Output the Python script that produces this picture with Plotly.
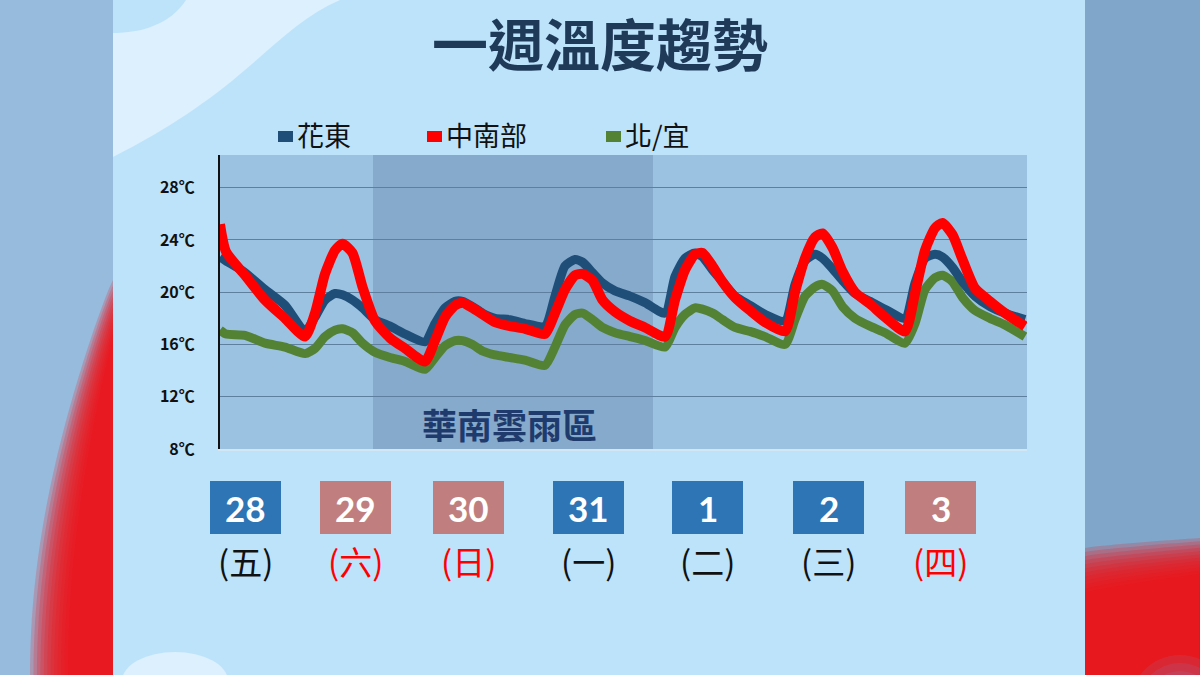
import plotly.graph_objects as go
import numpy as np

# ---------------- data ----------------
hours = [0, 1.2, 5, 9, 13,
         17, 19, 21, 23, 24.5, 26.5, 28.5, 31, 34, 37,
         41, 43, 45, 47, 48.5, 50.5, 52.5, 55, 58, 61,
         65, 67, 69, 71, 72.5, 74.5, 76.5, 79, 82, 85,
         89, 91, 93, 95, 96.5, 98.5, 100.5, 103, 106, 109,
         113, 115, 117, 119, 120.5, 122.5, 124.5, 127, 130, 133,
         137, 139, 141, 143, 144.5, 146.5, 148.5, 151, 154, 157,
         161]

hualien_taitung = [22.7, 22.4, 21.5, 20.2, 19.0,
                   17.0, 18.1, 19.4, 19.9, 19.8, 19.4, 18.8, 17.9, 17.4, 16.8,
                   16.2, 17.6, 18.8, 19.3, 19.3, 18.9, 18.4, 18.0, 17.9, 17.6,
                   17.4, 19.7, 22.0, 22.5, 22.3, 21.5, 20.7, 20.1, 19.7, 19.2,
                   18.4, 21.2, 22.6, 23.0, 22.7, 21.7, 20.8, 19.7, 19.0, 18.3,
                   17.8, 20.6, 22.4, 22.9, 22.6, 21.8, 20.9, 19.9, 19.3, 18.7,
                   18.0, 20.7, 22.6, 22.9, 22.7, 21.9, 20.8, 19.7, 18.9, 18.4,
                   17.9]

central_south = [25.2, 23.1, 21.3, 19.4, 18.0,
                 16.6, 18.4, 21.4, 23.2, 23.7, 23.0, 20.4, 17.8, 16.5, 15.7,
                 14.7, 16.3, 18.1, 19.0, 19.2, 18.8, 18.3, 17.7, 17.4, 17.2,
                 16.8, 18.4, 20.2, 21.3, 21.4, 20.9, 19.4, 18.5, 17.8, 17.3,
                 16.6, 19.4, 21.7, 22.9, 23.0, 22.0, 20.8, 19.6, 18.6, 17.7,
                 17.0, 20.0, 22.6, 24.2, 24.5, 23.4, 21.6, 20.0, 19.1, 18.1,
                 17.0, 19.9, 23.2, 24.9, 25.3, 24.4, 22.5, 20.3, 19.3, 18.4,
                 17.4]

north_yilan = [17.1, 16.8, 16.7, 16.1, 15.8,
               15.3, 15.7, 16.6, 17.1, 17.2, 16.9, 16.1, 15.4, 15.0, 14.7,
               14.1, 15.0, 15.9, 16.3, 16.3, 16.0, 15.5, 15.2, 15.0, 14.8,
               14.4, 15.8, 17.5, 18.3, 18.4, 17.9, 17.3, 16.9, 16.6, 16.3,
               15.8, 17.3, 18.3, 18.8, 18.7, 18.4, 17.9, 17.3, 17.0, 16.6,
               16.0, 17.9, 19.7, 20.4, 20.6, 20.1, 18.9, 18.0, 17.4, 16.9,
               16.1, 17.6, 20.2, 21.1, 21.3, 20.8, 19.6, 18.6, 18.0, 17.5,
               16.6]

series_names = ["花東", "中南部", "北/宜"]
y_ticks = [8, 12, 16, 20, 24, 28]
y_tick_labels = ["8℃", "12℃", "16℃", "20℃", "24℃", "28℃"]
rain_band_hours = [30.6, 86.6]
rain_band_label = "華南雲雨區"
date_labels = ["28", "29", "30", "31", "1", "2", "3"]
weekday_labels = ["(五)", "(六)", "(日)", "(一)", "(二)", "(三)", "(四)"]
is_holiday = [False, True, True, False, False, False, True]
title_text = "一週溫度趨勢"

# ---------------- layout helpers ----------------
W, H = 1200, 675
PL, PR, PT, PB = 220, 1027, 155, 449


def fx(x):
    return (x - PL) / (PR - PL)


def fy(y):
    return (PB - y) / (PB - PT)


def path(s):
    out = []
    for tok in s.split():
        if "," in tok:
            a, b = tok.split(",")
            out.append(f"{fx(float(a)):.5f},{fy(float(b)):.5f}")
        else:
            out.append(tok)
    return " ".join(out)


def poly(pts):
    return "M " + " L ".join(f"{fx(x):.5f},{fy(y):.5f}" for x, y in pts) + " Z"


def rect(x0, y0, x1, y1, color, **kw):
    return dict(type="rect", xref="paper", yref="paper", x0=fx(x0), x1=fx(x1),
                y0=fy(y1), y1=fy(y0), fillcolor=color, line=dict(width=0),
                layer="below", **kw)


def pshape(s, color):
    return dict(type="path", xref="paper", yref="paper", path=path(s),
                fillcolor=color, line=dict(width=0), layer="below")


def circ(x0, y0, x1, y1, color):
    return dict(type="circle", xref="paper", yref="paper", x0=fx(x0), x1=fx(x1),
                y0=fy(y1), y1=fy(y0), fillcolor=color, line=dict(width=0),
                layer="below")


C_BLUE = "#1F4E79"
C_RED = "#FF0000"
C_GREEN = "#548235"
CJK = "Noto Sans CJK TC"

shapes = []
# side strips
shapes.append(rect(0, 0, 113, 675, "#97BBDD"))
shapes.append(rect(1085, 0, 1200, 675, "#80A6C9"))

# left blurred red glow (stacked translucent layers between outer and inner boundary)
NL = 12
g = np.linspace(0, 1, 50)
for i in range(NL):
    f = i / (NL - 1)
    y_top = 280 + 60 * f
    x_bot = 30 + 38 * f
    ys = y_top + (675 - y_top) * g
    xs = 113 - (113 - x_bot) * np.sin(g * np.pi / 2) ** 0.9
    pts = [(113, y_top)] + list(zip(xs, ys)) + [(113, 675)]
    shapes.append(dict(type="path", xref="paper", yref="paper", path=poly(pts),
                       fillcolor="rgba(242,16,22,0.2)", line=dict(width=0), layer="below"))

# right blurred red glow
for i in range(NL):
    f = i / (NL - 1)
    top_l = 548 + 45 * f
    top_r = 538 + 36 * f
    xs = np.linspace(1085, 1200, 20)
    ys = top_l + (top_r - top_l) * ((xs - 1085) / 115) ** 0.8
    pts = list(zip(xs, ys)) + [(1200, 675), (1085, 675)]
    shapes.append(dict(type="path", xref="paper", yref="paper", path=poly(pts),
                       fillcolor="rgba(242,16,22,0.2)", line=dict(width=0), layer="below"))
for i in range(5):
    r = 50 - 8 * i
    shapes.append(circ(1180 - r, 705 - r, 1180 + r, 705 + r, "rgba(128,150,200,0.13)"))

# central panel
shapes.append(rect(113, 0, 1085, 675, "#BDE3FB"))
# top-left light wave
shapes.append(pshape("M 113,157 C 170,128 210,100 245,70 C 280,40 305,15 340,0 L 186,0 C 170,25 140,33 113,33 Z", "#DCF0FD"))
# bottom-left bump
shapes.append(circ(122, 652, 228, 710, "#DCF0FD"))
# plot background
shapes.append(rect(PL, PT, PR, PB, "#9CC2E2"))
# rain band
shapes.append(dict(type="rect", xref="x", yref="paper", x0=rain_band_hours[0], x1=rain_band_hours[1],
                   y0=0, y1=1, fillcolor="#86AACB", line=dict(width=0), layer="below"))

annotations = []
annotations.append(dict(x=fx(600), y=fy(41), xref="paper", yref="paper", text=title_text,
                        showarrow=False, xanchor="center", yanchor="middle",
                        font=dict(family=CJK, size=56, color="#1F3A58", weight="bold")))
# legend
leg_marker_x = [278, 427, 606]
leg_colors = [C_BLUE, C_RED, C_GREEN]
for name, mx, col in zip(series_names, leg_marker_x, leg_colors):
    shapes.append(dict(type="rect", xref="paper", yref="paper", x0=fx(mx), x1=fx(mx + 15),
                       y0=fy(142), y1=fy(131), fillcolor=col, line=dict(width=0), layer="above"))
    annotations.append(dict(x=fx(mx + 17), y=fy(135), xref="paper", yref="paper", text=name,
                            showarrow=False, xanchor="left", yanchor="middle",
                            font=dict(family=CJK, size=27, color="#111111")))
# rain band label
annotations.append(dict(x=fx(509), y=fy(423), xref="paper", yref="paper", text=rain_band_label,
                        showarrow=False, xanchor="center", yanchor="middle",
                        font=dict(family=CJK, size=35, color="#1F3B6E", weight="bold")))
# date boxes
box_centers = [245.5, 355.5, 468.5, 588.5, 707.5, 828.5, 940.5]
for d, wd, hol, cx in zip(date_labels, weekday_labels, is_holiday, box_centers):
    shapes.append(dict(type="rect", xref="paper", yref="paper", x0=fx(cx - 35.5), x1=fx(cx + 35.5),
                       y0=fy(534), y1=fy(481), fillcolor="#C07F7E" if hol else "#2E75B6",
                       line=dict(width=0), layer="above"))
    annotations.append(dict(x=fx(cx), y=fy(508), xref="paper", yref="paper", text=d,
                            showarrow=False, xanchor="center", yanchor="middle",
                            font=dict(family="Lato", size=35, color="white", weight="bold")))
    annotations.append(dict(x=fx(cx), y=fy(561), xref="paper", yref="paper", text=wd,
                            showarrow=False, xanchor="center", yanchor="middle",
                            font=dict(family=CJK, size=33, color="#FF0000" if hol else "#111111")))

fig = go.Figure()
for name, vals, col, w in [(series_names[2], north_yilan, C_GREEN, 9),
                           (series_names[0], hualien_taitung, C_BLUE, 9),
                           (series_names[1], central_south, C_RED, 10)]:
    fig.add_trace(go.Scatter(x=hours, y=vals, mode="lines", name=name,
                             line=dict(color=col, width=w, shape="spline", smoothing=0.6)))

fig.update_layout(
    width=W, height=H,
    margin=dict(l=PL, r=W - PR, t=PT, b=H - PB, pad=0),
    paper_bgcolor="#97BBDD",
    plot_bgcolor="rgba(0,0,0,0)",
    showlegend=False,
    shapes=shapes,
    annotations=annotations,
    xaxis=dict(range=[0, 161.4], showgrid=False, zeroline=False, showticklabels=False,
               ticks="", showline=True, linecolor="#D3E6F4", linewidth=2),
    yaxis=dict(range=[8, 30.5], tickvals=y_ticks, ticktext=y_tick_labels, showgrid=True,
               gridcolor="#5F7F9F", gridwidth=1.3, zeroline=False, showline=True,
               linecolor="#111111", linewidth=2, ticks="", ticklabelstandoff=20,
               tickfont=dict(family=CJK, size=16, color="#111111", weight="bold")),
)

fig.write_html("out.html", config={"displayModeBar": False},
               post_script="document.body.style.margin='0';document.body.style.overflow='hidden';")
